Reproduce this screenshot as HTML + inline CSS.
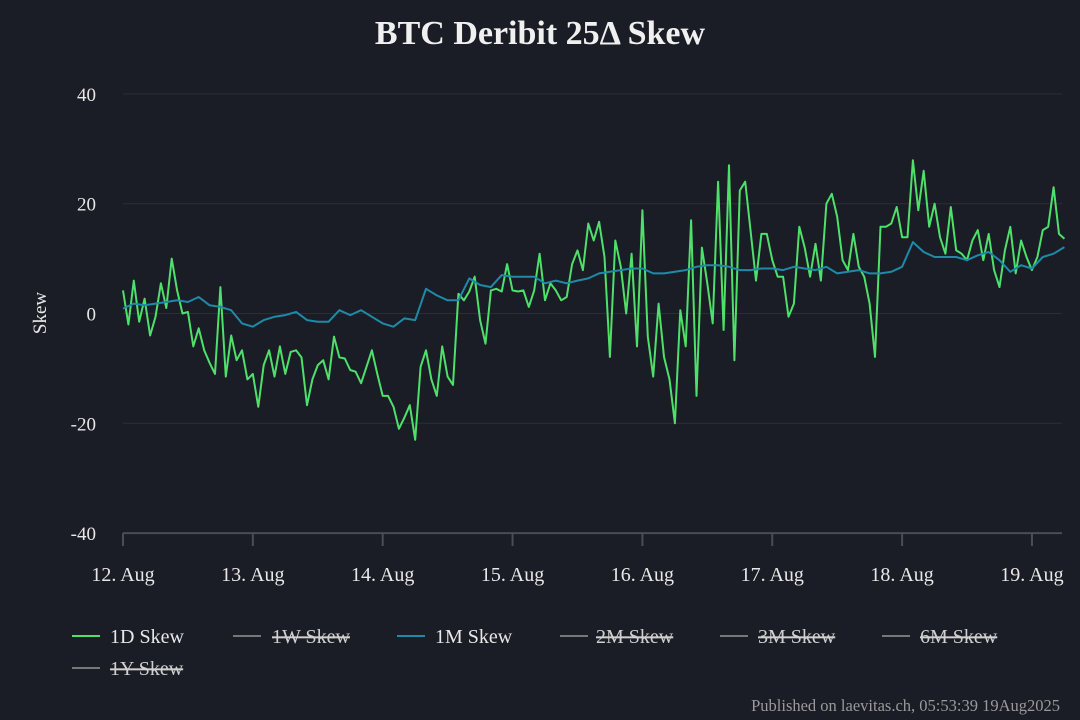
<!DOCTYPE html>
<html><head><meta charset="utf-8"><style>
body{margin:0;background:#1a1d25;}
svg{display:block;font-family:"Liberation Serif",serif;}
</style></head><body>
<svg width="1080" height="720" viewBox="0 0 1080 720" id="c">
<rect width="1080" height="720" fill="#1a1d25"/>
<text x="540" y="44" text-anchor="middle" font-size="34" font-weight="bold" fill="#f0f0f0">BTC Deribit 25Δ Skew</text>
<text transform="translate(46,313) rotate(-90)" text-anchor="middle" font-size="19" fill="#e8e8e8">Skew</text>
<g id="grid"></g><g id="series"></g>
<g font-size="20">
<g><line x1="72" y1="636" x2="100" y2="636" stroke="#4ee06a" stroke-width="2"/><text x="110" y="643" fill="#e8e8e8">1D Skew</text></g>
<g><line x1="233" y1="636" x2="261" y2="636" stroke="#777" stroke-width="2"/><text x="272" y="643" fill="#d0d0d0" text-decoration="line-through">1W Skew</text></g>
<g><line x1="397" y1="636" x2="425" y2="636" stroke="#1e8aa8" stroke-width="2"/><text x="435" y="643" fill="#e8e8e8">1M Skew</text></g>
<g><line x1="560" y1="636" x2="588" y2="636" stroke="#777" stroke-width="2"/><text x="596" y="643" fill="#d0d0d0" text-decoration="line-through">2M Skew</text></g>
<g><line x1="720" y1="636" x2="748" y2="636" stroke="#777" stroke-width="2"/><text x="758" y="643" fill="#d0d0d0" text-decoration="line-through">3M Skew</text></g>
<g><line x1="882" y1="636" x2="910" y2="636" stroke="#777" stroke-width="2"/><text x="920" y="643" fill="#d0d0d0" text-decoration="line-through">6M Skew</text></g>
<g><line x1="72" y1="668" x2="100" y2="668" stroke="#777" stroke-width="2"/><text x="110" y="675" fill="#d0d0d0" text-decoration="line-through">1Y Skew</text></g>
</g>
<text x="1060" y="711" text-anchor="end" font-size="16.5" fill="#9a9a9a">Published on laevitas.ch, 05:53:39 19Aug2025</text>
</svg>
<script>
const dayLabels=["12. Aug","13. Aug","14. Aug","15. Aug","16. Aug","17. Aug","18. Aug","19. Aug"];
const yTicks=[40,20,0,-20,-40];
const skew1D=[4.2,-2,6,-1.5,2.7,-4,-0.6,5.5,1,10,4.2,0,0.3,-6,-2.7,-6.7,-9,-11,4.8,-11.5,-4,-8.5,-6.7,-12,-11,-17,-9.4,-6.7,-11.5,-6,-11,-7,-6.7,-8,-16.7,-12,-9.4,-8.5,-12,-4.2,-8,-8.2,-10.3,-10.6,-12.7,-9.7,-6.7,-11,-15,-15,-17,-21,-19,-16.7,-23,-9.7,-6.7,-12,-15,-6,-11.5,-13,3.6,2.4,4,6.7,-1.2,-5.5,4.2,4.5,4,9,4.2,4,4.2,1.2,4.2,10.9,2.4,5.5,4.2,2.4,3,9,11.5,7.9,16.4,13.3,16.7,10.3,-7.9,13.3,8.5,0,10.9,-6,18.8,-4.2,-11.5,1.8,-7.9,-12,-20,0.6,-6,17,-15,12,5.5,-1.8,24,-3,27,-8.5,22.4,24,15,6,14.5,14.5,9.7,6.7,6.7,-0.6,1.8,15.8,12,6.7,12.7,6,20,21.8,17.6,9.7,7.9,14.5,8.5,6.7,1.8,-7.9,15.8,15.8,16.4,19.4,13.9,13.9,27.9,18.8,26,15.8,20,13.9,10.9,19.4,11.5,10.9,9.7,13.3,15.2,9.7,14.5,7.9,4.8,11.5,15.8,7.3,13.3,10.3,7.9,10.3,15.2,15.8,23,14.5,13.6];
const skew1M=[0.9,1.8,1.5,1.8,2.1,2.4,2.1,3,1.5,1.2,0.6,-1.8,-2.4,-1.2,-0.6,-0.3,0.3,-1.2,-1.5,-1.5,0.6,-0.3,0.6,-0.6,-1.8,-2.4,-0.9,-1.2,4.5,3.3,2.4,2.4,6.4,5.2,4.8,7,6.7,6.7,6.7,5.5,6,5.5,6,6.4,7.3,7.6,7.9,8.2,8.2,7.3,7.3,7.6,7.9,8.5,8.8,8.8,8.5,7.9,7.9,8.2,8.2,7.9,8.5,8.2,7.9,8.5,7.3,7.6,7.9,7.3,7.3,7.6,8.5,13,11.2,10.3,10.3,10.3,9.7,10.6,11.2,9.7,7.6,8.8,8.2,10.3,10.9,12.1];
const NS="http://www.w3.org/2000/svg";
const X0=123,PXDAY=129.85,Y0=313.5,PXU=5.49;
function xh(h){return X0+h*PXDAY/24;}
function yv(v){return Y0-v*PXU;}
const grid=document.getElementById('grid'),ser=document.getElementById('series');
yTicks.forEach(t=>{
 const l=document.createElementNS(NS,'line');
 
 
 l.setAttribute('x1',X0);l.setAttribute('x2',1062);l.setAttribute('y1',yv(t));l.setAttribute('y2',yv(t));
 l.setAttribute('stroke',t===-40?'#4a4d55':'#2a2e37');l.setAttribute('stroke-width',t===-40?2:1);
 grid.appendChild(l);
 const tx=document.createElementNS(NS,'text');
 
 
 tx.setAttribute('x',96);tx.setAttribute('y',yv(t)+7);tx.setAttribute('text-anchor','end');
 tx.setAttribute('font-size','19');tx.setAttribute('fill','#e8e8e8');tx.textContent=t;
 grid.appendChild(tx);
});
dayLabels.forEach((d,i)=>{
 const x=xh(i*24);
 const l=document.createElementNS(NS,'line');
 
 
 l.setAttribute('x1',x);l.setAttribute('x2',x);l.setAttribute('y1',533);l.setAttribute('y2',546);
 l.setAttribute('stroke','#4a4d55');l.setAttribute('stroke-width','2');grid.appendChild(l);
 const tx=document.createElementNS(NS,'text');
 
 
 tx.setAttribute('x',x);tx.setAttribute('y',581);tx.setAttribute('text-anchor','middle');
 tx.setAttribute('font-size','20');tx.setAttribute('fill','#e8e8e8');tx.textContent=d;
 grid.appendChild(tx);
});
function line(vals,step,color,name){
 const p=document.createElementNS(NS,'path');
 
 
 p.setAttribute('d',vals.map((v,i)=>(i?'L':'M')+xh(Math.min(i*step,174)).toFixed(1)+','+yv(v).toFixed(1)).join(''));
 p.setAttribute('fill','none');p.setAttribute('stroke',color);p.setAttribute('stroke-width','2');
 p.setAttribute('stroke-linejoin','round');
 ser.appendChild(p);
}
line(skew1D,1,'#4ee06a','series-1d-skew');
line(skew1M,2,'#1e8aa8','series-1m-skew');
</script>
</body></html>
